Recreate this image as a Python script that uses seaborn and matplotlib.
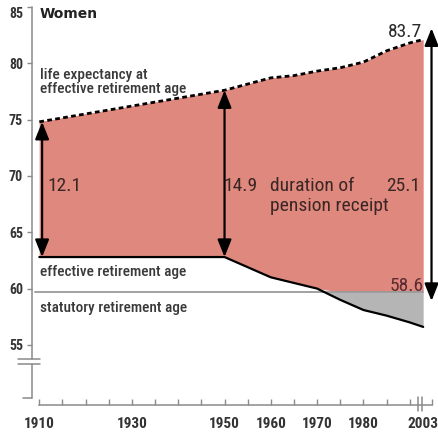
import numpy as np
import pandas as pd
import matplotlib
matplotlib.use("Agg")
import matplotlib.pyplot as plt
import seaborn as sns
from matplotlib import font_manager as fm

# ---------------- data ----------------
years = [1910, 1950, 1960, 1965, 1970, 1975, 1980, 1985, 1990, 2003]
life_expectancy = [74.8, 77.6, 78.7, 78.9, 79.3, 79.6, 80.1, 81.1, 81.8, 82.1]
effective_age = [62.8, 62.8, 61.0, 60.5, 60.0, 59.0, 58.1, 57.6, 57.0, 56.6]
statutory_age = 59.7
duration_labels = ["12.1", "14.9", "25.1"]
arrow_years = [1910, 1950, 2003]
arrow_low = [62.8, 62.8, 58.9]
arrow_high = [74.8, 77.6, 83.1]
xtick_years = [1910, 1930, 1950, 1960, 1970, 1980, 2003]
ytick_values = [55, 60, 65, 70, 75, 80, 85]

# ---------------- fonts ----------------
sns.set_theme(style="white")
names = {f.name for f in fm.fontManager.ttflist}
cands = ["Roboto Condensed", "Liberation Sans Narrow", "Roboto"]
font = next((c for c in cands if c in names), "DejaVu Sans")
plt.rcParams["font.family"] = [font, "DejaVu Sans"]

# axis break compression after 1990
def xpos(y):
    y = np.asarray(y, dtype=float)
    return np.where(y <= 1990, y, 1990 + (y - 1990) * (2.9 / 13))

df = pd.DataFrame({"year": years, "life": life_expectancy, "eff": effective_age})
df["x"] = xpos(df["year"])

PINK = "#df887d"
GRAY_FILL = "#b5b5b5"
AX_GRAY = "#8a8a8a"
TXT = "#3a3a3a"
NUM = "#3b2626"

fig = plt.figure(figsize=(4.38, 4.37), dpi=100)
ax = fig.add_axes([32 / 438, 32 / 437, 406 / 438, 405 / 437])
XL, XR = 1908.42, 1996.1
YB, YT = 49.67, 85.61
ax.set_xlim(XL, XR)
ax.set_ylim(YB, YT)

# fills
xx = df["x"].to_numpy()
life = df["life"].to_numpy()
eff = df["eff"].to_numpy()
ax.fill_between(xx, np.maximum(eff, statutory_age), life, color=PINK, lw=0, zorder=1)
ax.fill_between(xx, eff, statutory_age, where=eff < statutory_age, interpolate=True,
                color=GRAY_FILL, lw=0, zorder=1)
ax.fill_between(xx, eff, life, where=eff >= statutory_age, interpolate=True,
                color=PINK, lw=0, zorder=1)

# statutory line
ax.plot([1909.0, xx[-1]], [statutory_age, statutory_age], color="#9a9a9a", lw=1.3, zorder=2)

# lines via seaborn
sns.lineplot(data=df, x="x", y="life", ax=ax, color="black", lw=2.0,
             linestyle=(0, (1.7, 1.2)), sort=False, zorder=3)
sns.lineplot(data=df, x="x", y="eff", ax=ax, color="black", lw=1.6, sort=False, zorder=3)

# arrows
arrow_dx = [0.6, 0.0, 1.8]
for yr, dx, lo, hi in zip(arrow_years, arrow_dx, arrow_low, arrow_high):
    xa = float(xpos(yr)) + dx
    ax.annotate("", xy=(xa, hi), xytext=(xa, lo),
                arrowprops=dict(arrowstyle="<|-|>,head_length=1.05,head_width=0.42",
                                mutation_scale=10, lw=1.6, color="black",
                                shrinkA=0, shrinkB=0), zorder=4, annotation_clip=False)

# texts
LBL = dict(fontsize=11, color=TXT, fontweight="medium")
NUMK = dict(fontsize=14, color=NUM, fontweight="normal")
ax.text(1910.1, 84.0, "Women", fontsize=10, fontweight="bold", color="#222222",
        family=["DejaVu Sans"])
ax.text(1910.1, 78.64, "life expectancy at", **LBL)
ax.text(1910.1, 77.4, "effective retirement age", **LBL)
ax.text(1910.1, 61.1, "effective retirement age", **LBL)
ax.text(1910.1, 57.9, "statutory retirement age", **LBL)
num_x = [1911.8, 1949.7, 1984.9]
for xv, s in zip(num_x, duration_labels):
    ax.text(xv, 68.64, s, **NUMK)
ax.text(1959.8, 68.64, "duration of", **NUMK)
ax.text(1959.8, 66.9, "pension receipt", **NUMK)
ax.text(1992.6, 82.32, "83.7", fontsize=14, color="#2a2a2a", ha="right")
ax.text(1993.0, 59.8, "58.6", fontsize=14, color="#5a2c31", ha="right")

# axes styling
for s in ["top", "right", "left"]:
    ax.spines[s].set_visible(False)
ax.spines["bottom"].set_color(AX_GRAY)
ax.spines["bottom"].set_linewidth(1.1)
ax.spines["bottom"].set_bounds(1910, 1994.9)

ax.set_yticks(ytick_values)
ax.set_yticklabels([str(v) for v in ytick_values], fontsize=10, fontweight="bold",
                   color="#333333")
ax.tick_params(axis="y", direction="out", length=3.5, width=1.0, color=AX_GRAY,
               pad=3, left=True)

xt = list(xpos(xtick_years))
ax.set_xticks(xt)
ax.set_xticklabels([str(v) for v in xtick_years], fontsize=11, fontweight="bold",
                   color="#333333")
ax.set_xticks(list(range(1915, 1991, 5)) + [1994.8], minor=True)
ax.tick_params(axis="x", which="both", direction="in", length=4, width=1.0,
               color=AX_GRAY, pad=9, bottom=True)
ax.xaxis.get_major_ticks()[-1].tick1line.set_visible(False)
ax.get_yticklabels()[-1].set_va("top")
ax.set_xlabel("")
ax.set_ylabel("")

# manual left axis with break
ax.plot([XL, XL], [85, 53.75], color=AX_GRAY, lw=1.1, clip_on=False, zorder=2)
ax.plot([XL, XL], [53.31, 50.3], color=AX_GRAY, lw=1.1, clip_on=False, zorder=2)
ax.plot([XL - 2.0, XL], [50.3, 50.3], color=AX_GRAY, lw=1.1, clip_on=False, zorder=2)
for yv in (53.75, 53.31):
    ax.plot([1905.4, 1910.2], [yv, yv], color=AX_GRAY, lw=1.1, clip_on=False, zorder=2)
# x-axis break marks
for xv in (1991.85, 1992.6):
    ax.plot([xv, xv], [49.14, 50.38], color=AX_GRAY, lw=1.1, clip_on=False, zorder=2)

fig.savefig("out.png", dpi=100)
